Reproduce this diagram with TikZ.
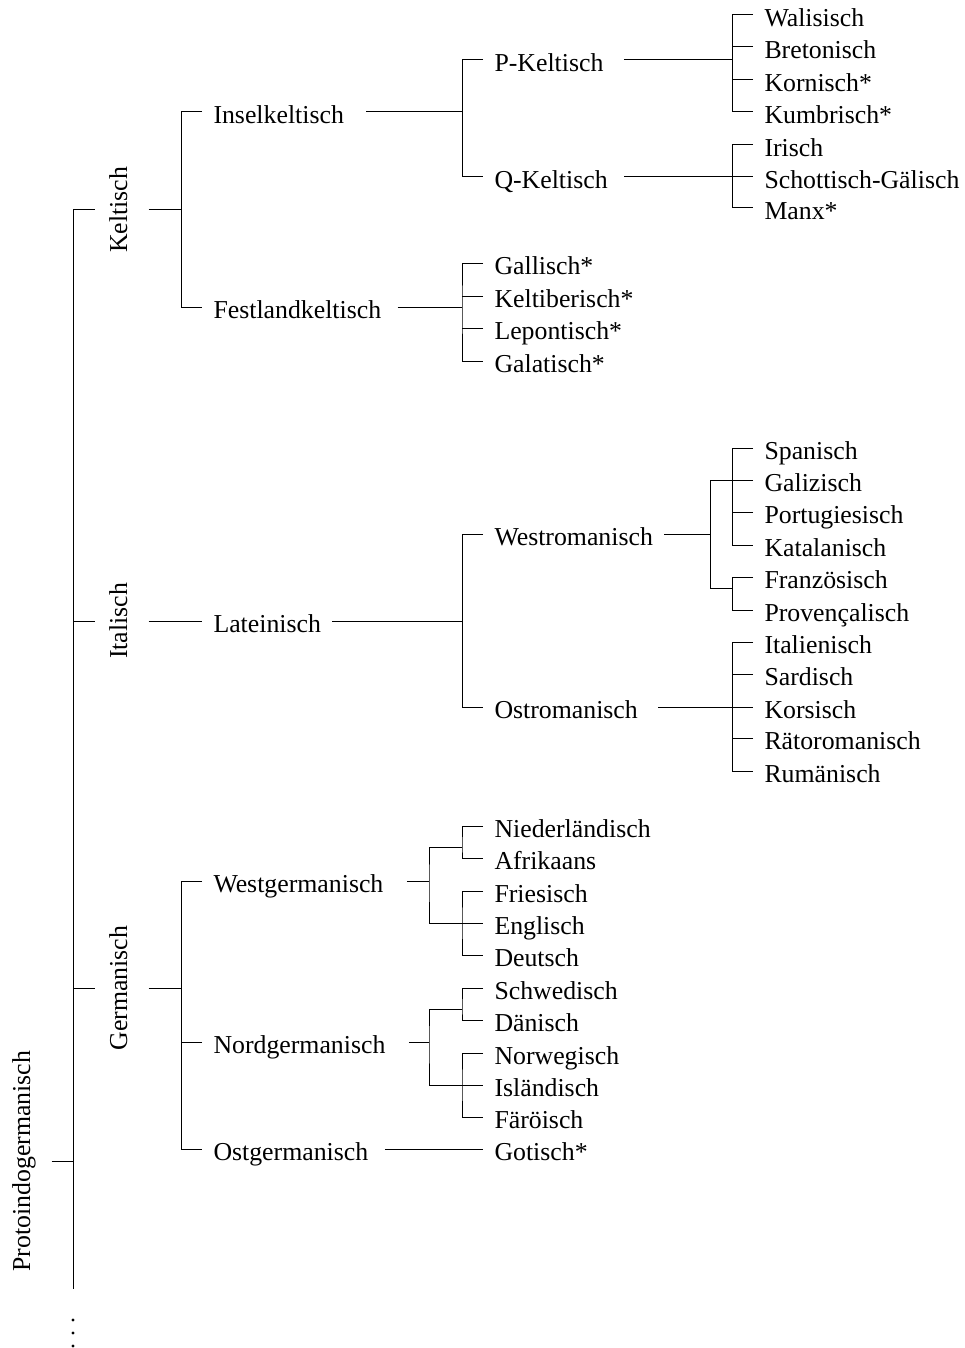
\documentclass[tikz,border=0pt]{standalone}
\usepackage{fontspec}
\setmainfont{Liberation Serif}
\usetikzlibrary{calc}

\begin{document}
\begin{tikzpicture}[
    x=1pt,y=-1pt,line width=1pt,
    every node/.style={font=\fontsize{25.8pt}{31pt}\selectfont},
    lang/.style={anchor=west,inner xsep=11pt,inner ysep=0pt,text height=23pt,text depth=0pt},
    grp/.style={rotate=90,anchor=base,inner xsep=0pt,inner ysep=15pt,text height=17pt,text depth=6pt}
  ]
    \useasboundingbox (0,0) rectangle (965,1348);

    % root and trunk
    \node[grp] (ROOT) at (30,1161) {Protoindogermanisch};
    \coordinate (T0) at (73,210);
    \coordinate (T1) at (73,1289);
    \draw (T0) -- (T1);
    \draw (ROOT.south) -- (ROOT.south -| T0);
    \foreach \d in {31,44,57} \fill (T1) ++(0,\d) circle (1.6pt);

    % Keltisch
    \node[grp] (N1) at (127,210) {Keltisch};
    \node[lang] (N11) at (202,112) {Inselkeltisch};
    \node[lang] (N12) at (202,307) {Festlandkeltisch};
    \coordinate (F1) at (181,210);
    \draw (N1.north) -- (N1.north -| T0);
    \draw (N1.south) -- (F1);
    \draw (N11.west) -- (N11.west -| F1) -- (N12.west -| F1) -- (N12.west);

    \node[lang] (N111) at (483,60) {P-Keltisch};
    \node[lang] (N112) at (483,177) {Q-Keltisch};
    \coordinate (F11) at (462,112);
    \draw (N11.east) +(11,0) -- (F11);
    \draw (N111.west) -- (N111.west -| F11) -- (N112.west -| F11) -- (N112.west);

    \node[lang] (N1111) at (753,15) {Walisisch};
    \node[lang] (N1112) at (753,47) {Bretonisch};
    \node[lang] (N1113) at (753,80) {Kornisch*};
    \node[lang] (N1114) at (753,112) {Kumbrisch*};
    \coordinate (F111) at (732,60);
    \draw (N111.east) +(9,0) -- (F111);
    \draw (N1111.west) -| (F111) |- (N1114.west);
    \foreach \i in {2,3} \draw (N111\i.west) -- (N111\i.west -| F111);

    \node[lang] (N1121) at (753,145) {Irisch};
    \node[lang] (N1122) at (753,177) {Schottisch-Gälisch};
    \node[lang] (N1123) at (753,208) {Manx*};
    \coordinate (F112) at (732,177);
    \draw (N112.east) +(5,0) -- (N1122.west);
    \draw (N1121.west) -| (F112) |- (N1123.west);

    \node[lang] (N121) at (483,263) {Gallisch*};
    \node[lang] (N122) at (483,296) {Keltiberisch*};
    \node[lang] (N123) at (483,328) {Lepontisch*};
    \node[lang] (N124) at (483,361) {Galatisch*};
    \coordinate (F12) at (462,307);
    \draw (N12.east) +(5,0) -- (F12);
    \draw (N121.west) -| (F12) |- (N124.west);
    \foreach \i in {2,3} \draw (N12\i.west) -- (N12\i.west -| F12);

    % Italisch
    \node[grp] (N2) at (127,621) {Italisch};
    \node[lang] (N21) at (202,621) {Lateinisch};
    \draw (N2.north) -- (N2.north -| T0);
    \draw (N2.south) -- (N21.west);

    \node[lang] (N211) at (483,534) {Westromanisch};
    \node[lang] (N212) at (483,707) {Ostromanisch};
    \coordinate (F21) at (462,621);
    \draw (N21.east) -- (F21);
    \draw (N211.west) -- (N211.west -| F21) -- (N212.west -| F21) -- (N212.west);

    \node[lang] (N2111) at (753,448) {Spanisch};
    \node[lang] (N2112) at (753,480) {Galizisch};
    \node[lang] (N2113) at (753,512) {Portugiesisch};
    \node[lang] (N2114) at (753,545) {Katalanisch};
    \node[lang] (N2115) at (753,577) {Französisch};
    \node[lang] (N2116) at (753,610) {Provençalisch};
    \coordinate (F211) at (710,534);
    \coordinate (F2111) at (732,480);
    \coordinate (F2112) at (732,588);
    \draw (N211.east) -- (F211);
    \draw (F2111) -| (F211) |- (F2112);
    \draw (N2111.west) -| (F2111) |- (N2114.west);
    \foreach \i in {2,3} \draw (N211\i.west) -- (N211\i.west -| F2111);
    \draw (N2115.west) -| (F2112) |- (N2116.west);

    \node[lang] (N2121) at (753,642) {Italienisch};
    \node[lang] (N2122) at (753,674) {Sardisch};
    \node[lang] (N2123) at (753,707) {Korsisch};
    \node[lang] (N2124) at (753,738) {Rätoromanisch};
    \node[lang] (N2125) at (753,771) {Rumänisch};
    \coordinate (F212) at (732,707);
    \draw (N212.east) +(9,0) -- (N2123.west);
    \draw (N2121.west) -| (F212) |- (N2125.west);
    \foreach \i in {2,4} \draw (N212\i.west) -- (N212\i.west -| F212);

    % Germanisch
    \node[grp] (N3) at (127,988) {Germanisch};
    \node[lang] (N31) at (202,881) {Westgermanisch};
    \node[lang] (N32) at (202,1042) {Nordgermanisch};
    \node[lang] (N33) at (202,1149) {Ostgermanisch};
    \coordinate (F3) at (181,988);
    \draw (N3.north) -- (N3.north -| T0);
    \draw (N3.south) -- (F3);
    \draw (N31.west) -- (N31.west -| F3) -- (N33.west -| F3) -- (N33.west);
    \draw (N32.west) -- (N32.west -| F3);

    \node[lang] (N311) at (483,826) {Niederländisch};
    \node[lang] (N312) at (483,858) {Afrikaans};
    \node[lang] (N313) at (483,891) {Friesisch};
    \node[lang] (N314) at (483,923) {Englisch};
    \node[lang] (N315) at (483,955) {Deutsch};
    \coordinate (F31) at (429,881);
    \coordinate (F311) at (462,847);
    \coordinate (F312) at (462,923);
    \draw (N31.east) +(12,0) -- (F31);
    \draw (F311) -| (F31) |- (N314.west);
    \draw (N311.west) -| (F311) |- (N312.west);
    \draw (N313.west) -| (F312) |- (N315.west);

    \node[lang] (N321) at (483,988) {Schwedisch};
    \node[lang] (N322) at (483,1020) {Dänisch};
    \node[lang] (N323) at (483,1053) {Norwegisch};
    \node[lang] (N324) at (483,1085) {Isländisch};
    \node[lang] (N325) at (483,1117) {Färöisch};
    \coordinate (F32) at (429,1042);
    \coordinate (F321) at (462,1009);
    \coordinate (F322) at (462,1085);
    \draw (N32.east) +(12,0) -- (F32);
    \draw (F321) -| (F32) |- (N324.west);
    \draw (N321.west) -| (F321) |- (N322.west);
    \draw (N323.west) -| (F322) |- (N325.west);

    \node[lang] (N331) at (483,1149) {Gotisch*};
    \draw (N33.east) +(5,0) -- (N331.west);

  \end{tikzpicture}
\end{document}
